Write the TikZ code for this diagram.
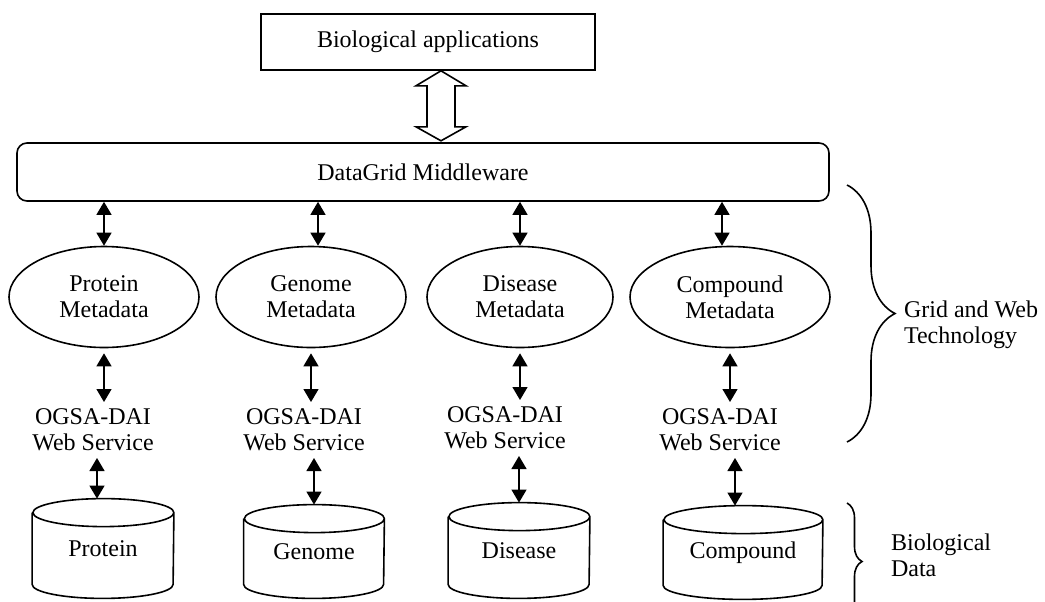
\documentclass[tikz,border=0pt]{standalone}
\usepackage{fontspec}
\setmainfont{Liberation Serif}
\usetikzlibrary{shapes.geometric,arrows.meta,decorations.pathreplacing,calc}

\begin{document}
\begin{tikzpicture}[x=0.5pt,y=-0.5pt,
    every node/.style={font=\fontsize{12}{12.8}\selectfont},
    meta/.style={draw,ellipse,line width=0.8pt,inner sep=0pt,minimum height=50.5pt,align=center,font=\fontsize{12}{13}\selectfont},
    db/.style={inner sep=0pt,minimum width=70.5pt,minimum height=49.5pt},
    svc/.style={align=center},
    link/.style={{Triangle[length=6.5pt,width=7.5pt]}-{Triangle[length=6.5pt,width=7.5pt]},line width=0.65pt},
    layer/.style={decorate,decoration={brace,amplitude=#1},line width=0.8pt}]
    \useasboundingbox (0,0) rectangle (1045,601);

    % top layers
    \node[draw,line width=0.8pt,minimum width=167pt,minimum height=28pt] (apps) at (428,42) {Biological applications};
    \node[draw,rounded corners=5pt,line width=0.8pt,minimum width=406pt,minimum height=29pt] (mw) at (423,172) {DataGrid Middleware};

    % hollow double arrow
    \draw[line width=0.8pt] ($(apps.south)+(13,0)$) -- ++(25,15) -- ++(-11,0) -- ++(0,41) -- ++(11,0) -- ++(-25,14)
        -- ++(-25,-14) -- ++(11,0) -- ++(0,-41) -- ++(-11,0) -- cycle;

    % metadata
    \node[meta,minimum width=95pt] (pmeta) at (104,297) {Protein\\Metadata};
    \node[meta,minimum width=95pt] (gmeta) at (311,297) {Genome\\Metadata};
    \node[meta,minimum width=93pt] (dmeta) at (520,297) {Disease\\Metadata};
    \node[meta,minimum width=100pt] (cmeta) at (730,297) {Compound\\Metadata};

    % web services
    \node[svc] (psvc) at (93,430) {OGSA-DAI\\Web Service};
    \node[svc] (gsvc) at (304,430) {OGSA-DAI\\Web Service};
    \node[svc] (dsvc) at (505,428) {OGSA-DAI\\Web Service};
    \node[svc] (csvc) at (720,430) {OGSA-DAI\\Web Service};

    % databases
    \node[db] (pdb) at (103,548.5) {Protein};
    \node[db,minimum width=70pt,minimum height=46.5pt] (gdb) at (314,551.5) {Genome};
    \node[db,minimum height=47.5pt] (ddb) at (519,550.5) {Disease};
    \node[db,minimum width=79.5pt,minimum height=46.5pt] (cdb) at (743,552.5) {Compound};
    \foreach \db/\rx in {pdb/35.25pt,gdb/35pt,ddb/35.25pt,cdb/39.75pt}
        \draw[line width=0.8pt] ($(\db.north west)+(0,14)$) -- ($(\db.south west)+(0,-14)$)
            arc[start angle=180,end angle=360,x radius=\rx,y radius=7pt] -- ($(\db.north east)+(0,14)$)
            arc[start angle=0,end angle=360,x radius=\rx,y radius=7pt];

    % middleware links
    \draw[link] (pmeta.north |- mw.south) -- (pmeta.north);
    \draw[link] ($(gmeta.north |- mw.south)+(7,0)$) -- ($(gmeta.north)+(7,0)$);
    \draw[link] (dmeta.north |- mw.south) -- (dmeta.north);
    \draw[link] ($(cmeta.north |- mw.south)+(-8,0)$) -- ($(cmeta.north)+(-8,0)$);

    % metadata to services
    \draw[link] ($(pmeta.south)+(0,5)$) -- (pmeta.south |- psvc.north);
    \draw[link] ($(gmeta.south)+(0,5)$) -- (gmeta.south |- gsvc.north);
    \draw[link] ($(dmeta.south)+(0,5)$) -- (dmeta.south |- dsvc.north);
    \draw[link] ($(cmeta.south)+(0,5)$) -- (cmeta.south |- csvc.north);

    % services to data
    \draw[link] ($(pdb.north |- psvc.south)+(-6,0)$) -- ($(pdb.north)+(-6,0)$);
    \draw[link] (gdb.north |- gsvc.south) -- (gdb.north);
    \draw[link] (ddb.north |- dsvc.south) -- (ddb.north);
    \draw[link] ($(cdb.north |- csvc.south)+(-8,0)$) -- ($(cdb.north)+(-8,0)$);

    % braces
    \coordinate (gtop) at (847,185);
    \coordinate (gbot) at (847,442);
    \coordinate (btop) at (847,503);
    \coordinate (bbot) at (847,620);
    \draw[layer=24pt] (gtop) -- (gbot);
    \draw[layer=7.5pt] (btop) -- (bbot);
    \node[anchor=west,align=left] (gridweb) at (897,325) {Grid and Web\\Technology};
    \node[anchor=west,align=left] (biodata) at (884,555) {Biological\\Data};
\end{tikzpicture}
\end{document}
